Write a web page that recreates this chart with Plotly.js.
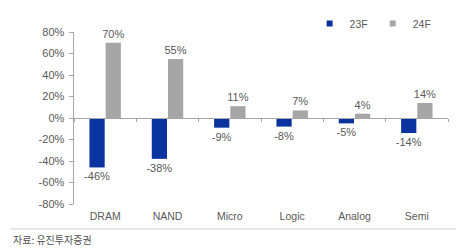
<!DOCTYPE html>
<html><head><meta charset="utf-8">
<script src="https://cdn.plot.ly/plotly-3.0.1.min.js"></script>
<style>html,body{margin:0;padding:0;background:#fff}#c{width:456px;height:249px}</style>
</head><body><div id="c"></div>
<script>
const categories = ["DRAM","NAND","Micro","Logic","Analog","Semi"];
const s23 = [-46,-38,-9,-8,-5,-14];
const s24 = [70,55,11,7,4,14];
const seriesNames = ["23F","24F"];
const yTicks = [-80,-60,-40,-20,0,20,40,60,80];
const yTickText = yTicks.map(v=>v+"%");
const fnt = "Liberation Sans, Arial, sans-serif";
const txtCol = "#595959";
const colors = ["#0a33a0","#a6a6a6"];
const traces = [
 {type:"bar",name:seriesNames[0],x:categories,y:s23,marker:{color:colors[0]},showlegend:false,
  text:s23.map(v=>v+"%"),textposition:"outside",cliponaxis:false,constraintext:"none",
  textfont:{size:11,color:txtCol,family:fnt}},
 {type:"bar",name:seriesNames[1],x:categories,y:s24,marker:{color:colors[1]},showlegend:false,
  text:s24.map(v=>v+"%"),textposition:"outside",cliponaxis:false,constraintext:"none",
  textfont:{size:11,color:txtCol,family:fnt}},
 {type:"scatter",mode:"markers",name:seriesNames[0],x:[null],y:[null],
  marker:{symbol:"square",size:6,color:colors[0]}},
 {type:"scatter",mode:"markers",name:seriesNames[1],x:[null],y:[null],
  marker:{symbol:"square",size:6,color:colors[1]}},
 {type:"scatter",mode:"markers",x:categories,y:categories.map(()=>null),xaxis:"x2",showlegend:false,hoverinfo:"skip"}
];
const layout = {
 width:456,height:249,margin:{l:74,r:8,t:32,b:45},
 paper_bgcolor:"#fff",plot_bgcolor:"#fff",
 font:{family:fnt,size:10,color:txtCol},
 barmode:"group",bargap:0.48,bargroupgap:0.06,
 showlegend:true,
 legend:{orientation:"h",x:0.63,xanchor:"left",y:1.05,yanchor:"middle",
  font:{size:10.5,color:txtCol},itemwidth:30,traceorder:"normal",bgcolor:"rgba(0,0,0,0)"},
 xaxis:{type:"category",showline:false,ticks:"",showgrid:false,zeroline:false,
  tickfont:{size:10.5,color:txtCol},ticklabelstandoff:4},
 xaxis2:{type:"category",overlaying:"x",matches:"x",anchor:"free",position:0.5,
  showline:true,linecolor:"#a6a6a6",linewidth:1,ticks:"outside",tickson:"boundaries",
  ticklen:3,tickcolor:"#a6a6a6",showticklabels:false,showgrid:false,side:"bottom"},
 yaxis:{range:[-80,80],tickvals:yTicks,ticktext:yTickText,showgrid:false,zeroline:false,
  showline:true,linecolor:"#a6a6a6",linewidth:1.5,ticks:"outside",ticklen:4,tickcolor:"#a6a6a6",
  tickfont:{size:11,color:txtCol},ticklabelstandoff:2},
 shapes:[{type:"line",xref:"paper",yref:"paper",x0:-0.17,x1:1.03,y0:-0.145,y1:-0.145,
  line:{color:"#d0d0d0",width:1}}],
 annotations:[{xref:"paper",yref:"paper",x:-0.168,y:-0.152,xanchor:"left",yanchor:"top",
  text:"자료: 유진투자증권",showarrow:false,font:{family:"Noto Sans CJK KR",size:10,color:"#505050"}}]
};
Plotly.newPlot("c",traces,layout,{staticPlot:true});
</script></body></html>
